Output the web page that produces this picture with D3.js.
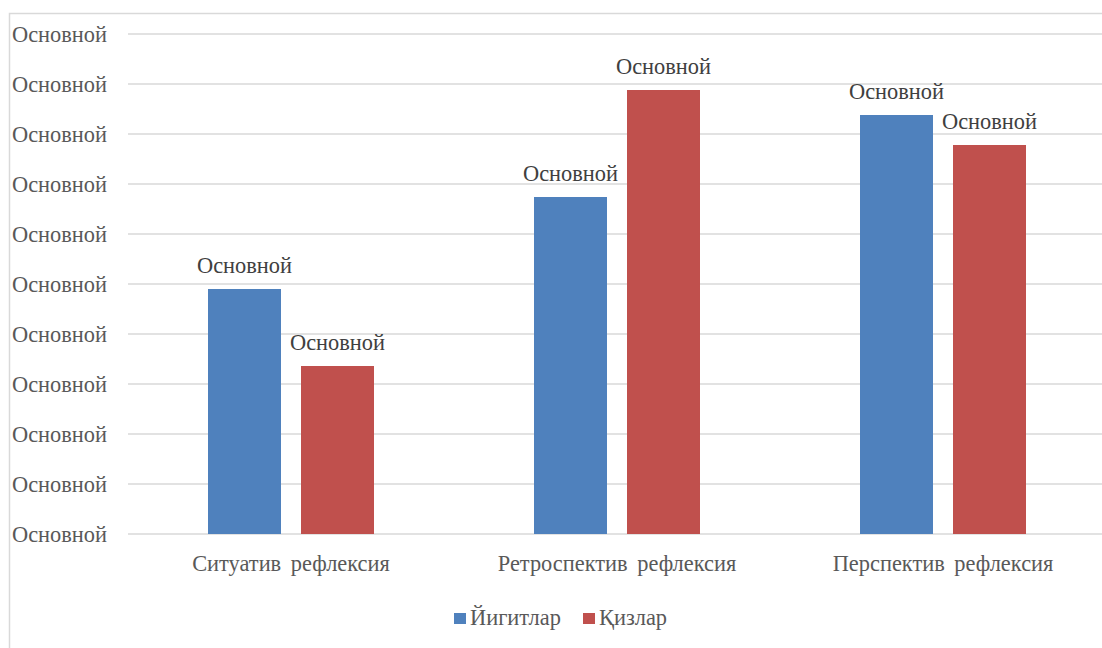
<!DOCTYPE html>
<html><head><meta charset="utf-8">
<script src="https://cdn.jsdelivr.net/npm/d3@7/dist/d3.min.js"></script>
<style>
html,body{margin:0;padding:0;background:#fff;}
svg{display:block;}
</style></head>
<body>
<svg id="chart" width="1102" height="648"></svg>
<script>
const categories = ["Ситуатив рефлексия", "Ретроспектив рефлексия", "Перспектив рефлексия"];
const seriesNames = ["Йигитлар", "Қизлар"];
const boys = [4.9, 6.74, 8.38];
const girls = [3.36, 8.88, 7.78];
const tickValues = [0,1,2,3,4,5,6,7,8,9,10];
const tickLabel = "Основной";
const dataLabel = "Основной";
const colors = ["#4f81bd", "#c0504d"];

const FONT = '"Liberation Serif", Tinos, "Times New Roman", serif';
const FS = "22.4px";
const svg = d3.select("#chart");
const W = 1102, H = 648;
const plot = {left:128, right:1106, top:34, bottom:534};

// outer chart border
svg.append("path")
  .attr("d", `M9.5,${H+2} L9.5,13.5 L${W+2},13.5`)
  .attr("fill","none").attr("stroke","#d9d9d9").attr("stroke-width",1.5);

const x = d3.scaleBand().domain(categories).range([plot.left, plot.right]);
const bw = 73, gap = 20;
const y = d3.scaleLinear().domain([0,10]).range([plot.bottom, plot.top]);

// gridlines
svg.append("g").selectAll("line").data(tickValues).join("line")
  .attr("x1", plot.left).attr("x2", W)
  .attr("y1", d=>y(d)).attr("y2", d=>y(d))
  .attr("stroke","#d9d9d9").attr("stroke-width",1.5);

// y axis labels
const yAxis = d3.axisLeft(y).tickValues(tickValues).tickSize(0).tickPadding(0).tickFormat(()=>tickLabel);
const gy = svg.append("g").attr("transform","translate(107,0)").call(yAxis);
gy.select(".domain").remove();
gy.selectAll("text").style("font-size",FS).style("fill","#595959")
  .style("font-family",FONT).attr("dy","0.33em");

// x axis labels
const xAxis = d3.axisBottom(x).tickSize(0).tickPadding(0);
const gx = svg.append("g").attr("transform",`translate(0,${plot.bottom})`).call(xAxis);
gx.select(".domain").remove();
gx.selectAll("text").style("font-size",FS).style("fill","#595959")
  .style("font-family",FONT).attr("y",37).attr("dy",0)
  .style("word-spacing","4px");

const series = [boys, girls];
series.forEach((vals, si) => {
  const off = si === 0 ? -(gap/2 + bw) : gap/2;
  const g = svg.append("g");
  g.selectAll("rect").data(categories).join("rect")
    .attr("x", (c)=> x(c) + x.bandwidth()/2 + off)
    .attr("y", (c,i)=> y(vals[i]))
    .attr("width", bw)
    .attr("height", (c,i)=> y(0) - y(vals[i]))
    .attr("fill", colors[si]);
  g.selectAll("text").data(categories).join("text")
    .attr("x", (c)=> x(c) + x.bandwidth()/2 + off + bw/2)
    .attr("y", (c,i)=> y(vals[i]) - 16)
    .attr("text-anchor","middle")
    .style("font-size",FS)
    .style("font-family",FONT)
    .style("fill","#404040")
    .text(dataLabel);
});

// legend
const legend = svg.append("g");
const legendItems = [{x:454, tx:470}, {x:583, tx:599}];
seriesNames.forEach((n,i)=>{
  legend.append("rect").attr("x", legendItems[i].x).attr("y", 613).attr("width",12).attr("height",11).attr("fill",colors[i]);
  legend.append("text").attr("x", legendItems[i].tx).attr("y", 625)
    .style("font-size",FS).style("font-family",FONT).style("fill","#595959").text(n);
});
</script>
</body></html>
